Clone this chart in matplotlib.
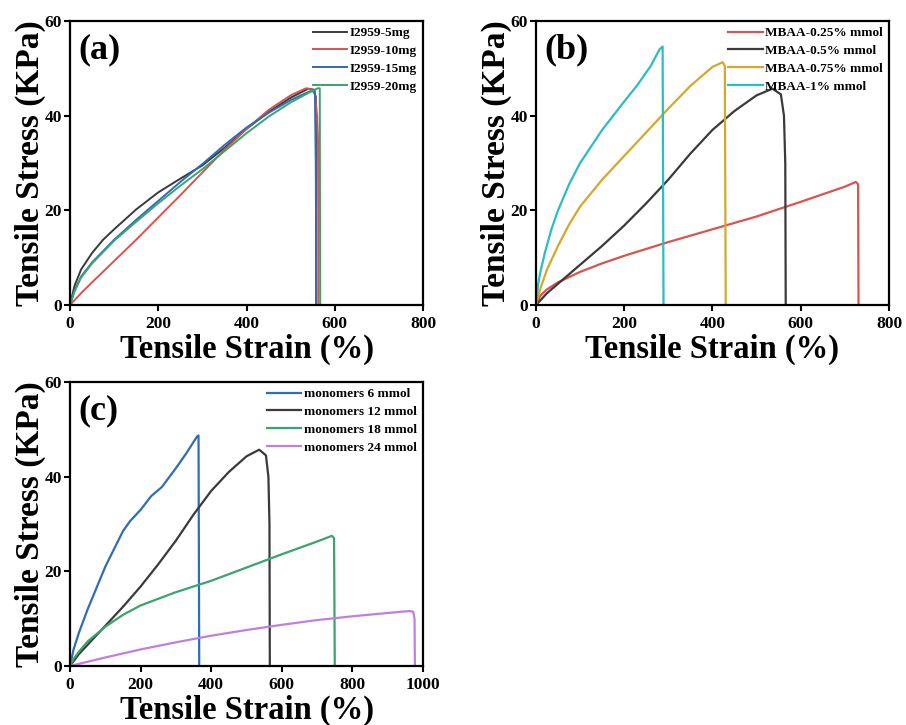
import matplotlib
matplotlib.use("Agg")
from matplotlib import pyplot as plt

plt.rcParams['font.family'] = ['Liberation Serif', 'DejaVu Serif']
plt.rcParams['font.weight'] = 'bold'

# ---- panel (a): photoinitiator I2959 ----
a_labels = ['I2959-5mg', 'I2959-10mg', 'I2959-15mg', 'I2959-20mg']
a_colors = ['#3a3a3a', '#d9534f', '#2f6db5', '#3aa46e']
a_5mg_x = [0, 10, 25, 50, 75, 100, 150, 200, 250, 300, 350, 400, 450, 500, 540, 552, 557, 558]
a_5mg_y = [0, 4, 7.5, 11, 13.8, 16, 20.2, 23.8, 26.7, 29.5, 33.2, 37.2, 40.8, 43.8, 45.7, 45.5, 44, 0]
a_10mg_x = [0, 25, 50, 100, 150, 200, 250, 300, 350, 400, 450, 500, 535, 548, 555, 560, 562, 563]
a_10mg_y = [0, 2.5, 4.8, 9.3, 13.8, 18.5, 23.2, 28, 32.8, 37.2, 41.2, 44.3, 45.8, 45.5, 44.5, 40, 35, 0]
a_15mg_x = [0, 10, 25, 50, 100, 150, 200, 250, 300, 350, 400, 450, 500, 540, 555, 557, 558]
a_15mg_y = [0, 3, 6, 9, 13.8, 18, 22, 26, 29.8, 33.8, 37.5, 40.6, 43.3, 45, 45.5, 30, 0]
a_20mg_x = [0, 10, 25, 50, 100, 150, 200, 250, 300, 350, 400, 450, 500, 540, 562, 566, 567]
a_20mg_y = [0, 2.8, 5.8, 8.8, 13.6, 17.6, 21.5, 25.2, 28.7, 32.5, 36.3, 39.8, 42.8, 44.8, 45.8, 45.8, 0]

# ---- panel (b): crosslinker MBAA ----
b_labels = ['MBAA-0.25% mmol', 'MBAA-0.5% mmol', 'MBAA-0.75% mmol', 'MBAA-1% mmol']
b_colors = ['#d9534f', '#3a3a3a', '#d4a82a', '#2bbcc6']
b_025_x = [0, 10, 25, 50, 100, 150, 200, 300, 400, 500, 600, 700, 725, 730, 731]
b_025_y = [0, 2, 3.3, 4.8, 7, 8.8, 10.4, 13.3, 16, 18.7, 21.8, 25, 26, 25.5, 0]
b_05_x = [0, 25, 50, 100, 150, 200, 250, 300, 350, 400, 450, 500, 536, 555, 562, 565, 566]
b_05_y = [0, 2.5, 4.5, 8.5, 12.5, 16.8, 21.5, 26.5, 32, 37, 41, 44.3, 45.7, 44.5, 40, 30, 0]
b_075_x = [0, 10, 25, 50, 75, 100, 150, 200, 250, 300, 350, 400, 423, 428, 430]
b_075_y = [0, 3.5, 7.5, 12.5, 17, 20.8, 26.5, 31.5, 36.5, 41.5, 46.3, 50.3, 51.3, 50.5, 0]
b_1_x = [0, 5, 10, 20, 35, 50, 75, 100, 150, 200, 230, 260, 280, 287, 289]
b_1_y = [0, 4.5, 7, 11, 16, 20, 25.5, 30, 37, 43, 46.5, 50.5, 54, 54.6, 0]

# ---- panel (c): monomers ----
c_labels = ['monomers 6 mmol', 'monomers 12 mmol', 'monomers 18 mmol', 'monomers 24 mmol']
c_colors = ['#2f6db5', '#3a3a3a', '#3aa46e', '#c07fe0']
c_6_x = [0, 10, 25, 50, 100, 150, 170, 200, 230, 260, 280, 300, 330, 360, 364, 366]
c_6_y = [0, 3.5, 7, 12, 21, 28.5, 30.6, 33, 35.9, 37.8, 39.8, 41.8, 45, 48.5, 48.7, 0]
c_12_x = b_05_x
c_12_y = b_05_y
c_18_x = [0, 10, 25, 50, 100, 150, 200, 300, 400, 500, 600, 700, 742, 748, 750]
c_18_y = [0, 1.5, 3, 5.2, 8.3, 10.8, 12.8, 15.6, 18, 20.8, 23.6, 26.3, 27.5, 27, 0]
c_24_x = [0, 50, 100, 200, 300, 400, 500, 600, 700, 800, 900, 960, 972, 976, 977]
c_24_y = [0, 0.9, 1.8, 3.5, 5.0, 6.4, 7.6, 8.7, 9.7, 10.5, 11.2, 11.6, 11.5, 10, 0]


def style_axes(ax, xmax, xticks, tag):
    ax.set_xlim(0, xmax)
    ax.set_ylim(0, 60)
    ax.set_xticks(xticks)
    ax.set_yticks([0, 20, 40, 60])
    ax.tick_params(direction='out', width=1.5, length=4, labelsize=12.5)
    ax.tick_params(axis='x', pad=4)
    ax.tick_params(axis='y', pad=2)
    for s in ax.spines.values():
        s.set_linewidth(1.6)
    ax.set_xlabel('Tensile Strain (%)', fontsize=23.5, fontweight='bold', labelpad=1)
    ax.set_ylabel('Tensile Stress (KPa)', fontsize=24, fontweight='bold', labelpad=-1)
    ax.text(0.025, 0.955, tag, transform=ax.transAxes, fontsize=26,
            fontweight='bold', va='top', ha='left')
    ax.legend(loc='upper right', frameon=False, fontsize=9.5, handlelength=2.6,
              handletextpad=0.2, borderaxespad=0.2, borderpad=0.25, labelspacing=0.42)


fig = plt.figure(figsize=(9.06, 7.25), dpi=100)

ax_a = fig.add_axes([0.0773, 0.5793, 0.3896, 0.3917])
for x, y, c, lab in zip([a_5mg_x, a_10mg_x, a_15mg_x, a_20mg_x],
                        [a_5mg_y, a_10mg_y, a_15mg_y, a_20mg_y], a_colors, a_labels):
    ax_a.plot(x, y, color=c, lw=1.4, label=lab)
style_axes(ax_a, 800, [0, 200, 400, 600, 800], '(a)')

ax_b = fig.add_axes([0.5916, 0.5793, 0.3896, 0.3917])
for x, y, c, lab in zip([b_025_x, b_05_x, b_075_x, b_1_x],
                        [b_025_y, b_05_y, b_075_y, b_1_y], b_colors, b_labels):
    ax_b.plot(x, y, color=c, lw=1.6, label=lab)
style_axes(ax_b, 800, [0, 200, 400, 600, 800], '(b)')

ax_c = fig.add_axes([0.0773, 0.0814, 0.3896, 0.3917])
for x, y, c, lab in zip([c_6_x, c_12_x, c_18_x, c_24_x],
                        [c_6_y, c_12_y, c_18_y, c_24_y], c_colors, c_labels):
    ax_c.plot(x, y, color=c, lw=1.6, label=lab)
style_axes(ax_c, 1000, [0, 200, 400, 600, 800, 1000], '(c)')

fig.savefig('out.png', dpi=100)
